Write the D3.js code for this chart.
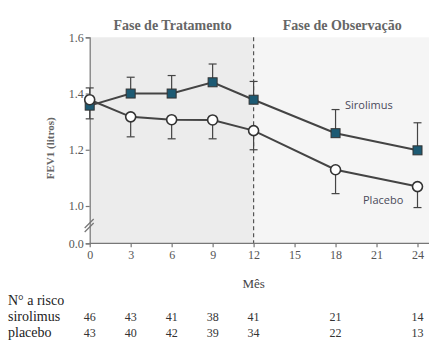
<!DOCTYPE html>
<html>
<head>
<meta charset="utf-8">
<script src="https://cdn.jsdelivr.net/npm/d3@7"></script>
<style>
  body { margin: 0; background: #fff; }
  svg { display: block; }
</style>
</head>
<body>
<div id="chart"></div>
<script>
'use strict';

// data
var months = [0, 3, 6, 9, 12, 18, 24];
var sirolimus = [1.357, 1.40, 1.40, 1.44, 1.378, 1.259, 1.198];
var sirolimusUpper = [1.42, 1.458, 1.464, 1.505, 1.443, 1.343, 1.296];
var placebo = [1.378, 1.317, 1.307, 1.306, 1.268, 1.129, 1.069];
var placeboLower = [1.31, 1.246, 1.239, 1.239, 1.20, 1.044, 0.958];
var atRiskSirolimus = [46, 43, 41, 38, 41, 21, 14];
var atRiskPlacebo = [43, 40, 42, 39, 34, 22, 13];
var xTicks = [0, 3, 6, 9, 12, 15, 18, 21, 24];
var yTicks = [0, 1.0, 1.2, 1.4, 1.6];
var phases = ["Fase de Tratamento", "Fase de Observação"];

var W = 437, H = 352;
var serif = "'Liberation Serif', 'Times New Roman', serif";
var sans = "'Open Sans', 'Noto Sans', sans-serif";

var svg = d3.select("#chart").append("svg")
			.attr("width", W)
			.attr("height", H);

var x = d3.scaleLinear().domain([0, 24]).range([89.7, 417.5]);
// broken axis: 0.0 then jump to 1.0
var y = d3.scaleLinear().domain([0, 1.0, 1.6]).range([243.3, 206, 37.3]);

var plotTop = y(1.6), plotBottom = y(0), plotRight = 429;

// phase panels
svg.append("rect")
   .attr("x", x(0)).attr("y", plotTop)
   .attr("width", x(12) - x(0)).attr("height", plotBottom - plotTop)
   .attr("fill", "#ececec");
svg.append("rect")
   .attr("x", x(12)).attr("y", plotTop)
   .attr("width", plotRight - x(12)).attr("height", plotBottom - plotTop)
   .attr("fill", "#f5f5f5");

// phase titles
svg.selectAll("text.phase")
   .data(phases)
   .enter().append("text")
   .attr("class", "phase")
   .attr("x", function(d, i) { return i == 0 ? (x(0) + x(12)) / 2 + 1 : (x(12) + plotRight) / 2 + 1; })
   .attr("y", 30)
   .attr("text-anchor", "middle")
   .attr("font-family", serif)
   .attr("font-weight", "bold")
   .attr("font-size", 14)
   .attr("fill", "#666")
   .text(function(d) { return d; });

// dashed separator
svg.append("line")
   .attr("x1", x(12)).attr("x2", x(12))
   .attr("y1", plotTop).attr("y2", plotBottom)
   .attr("stroke", "#555")
   .attr("stroke-width", 1.2)
   .attr("stroke-dasharray", "4,3");

// axes
var yAxis = svg.append("g")
			   .attr("transform", "translate(" + x(0) + ",0)")
			   .call(d3.axisLeft(y).tickValues(yTicks).tickFormat(d3.format(".1f")).tickSize(4).tickPadding(2));
var xAxis = svg.append("g")
			   .attr("transform", "translate(0," + plotBottom + ")")
			   .call(d3.axisBottom(x).tickValues(xTicks).tickSize(4).tickPadding(3));

xAxis.select(".domain").attr("d", "M" + x(0) + ",0H" + plotRight);

[yAxis, xAxis].forEach(function(g) {
	g.selectAll(".domain, .tick line").attr("stroke", "#777").attr("stroke-width", 1.2);
	g.selectAll("text")
	 .attr("font-family", serif)
	 .attr("font-size", 12)
	 .attr("fill", "#555");
});

// axis break marks
[0, 4].forEach(function(off) {
	svg.append("line")
	   .attr("x1", x(0) - 5).attr("y1", 232 - off)
	   .attr("x2", x(0) + 4).attr("y2", 223 - off)
	   .attr("stroke", "#777")
	   .attr("stroke-width", 1.2);
});

// y label
svg.append("text")
   .attr("transform", "translate(54," + ((plotTop + plotBottom) / 2 + 8) + ") rotate(-90)")
   .attr("text-anchor", "middle")
   .attr("font-family", serif)
   .attr("font-weight", "bold")
   .attr("font-size", 11)
   .attr("fill", "#666")
   .text("FEV1 (litros)");

// x label
svg.append("text")
   .attr("x", x(12)).attr("y", 288)
   .attr("text-anchor", "middle")
   .attr("font-family", serif)
   .attr("font-size", 13)
   .attr("fill", "#444")
   .text("Mês");

// error bars
function errorBars(vals, ends) {
	var g = svg.append("g").attr("stroke", "#444").attr("stroke-width", 1.2);
	months.forEach(function(m, i) {
		g.append("line")
		 .attr("x1", x(m)).attr("x2", x(m))
		 .attr("y1", y(vals[i])).attr("y2", y(ends[i]));
		g.append("line")
		 .attr("x1", x(m) - 4).attr("x2", x(m) + 4)
		 .attr("y1", y(ends[i])).attr("y2", y(ends[i]));
	});
}
errorBars(sirolimus, sirolimusUpper);
errorBars(placebo, placeboLower);

// lines
var line = d3.line()
			 .x(function(d, i) { return x(months[i]); })
			 .y(function(d) { return y(d); });

[sirolimus, placebo].forEach(function(s) {
	svg.append("path")
	   .attr("d", line(s))
	   .attr("fill", "none")
	   .attr("stroke", "#444")
	   .attr("stroke-width", 2);
});

// markers
svg.selectAll("rect.sq")
   .data(sirolimus)
   .enter().append("rect")
   .attr("class", "sq")
   .attr("x", function(d, i) { return x(months[i]) - 4.5; })
   .attr("y", function(d) { return y(d) - 4.5; })
   .attr("width", 9).attr("height", 9)
   .attr("fill", "#1d5a73")
   .attr("stroke", "#333")
   .attr("stroke-width", 1);

svg.selectAll("circle.pl")
   .data(placebo)
   .enter().append("circle")
   .attr("class", "pl")
   .attr("cx", function(d, i) { return x(months[i]); })
   .attr("cy", function(d) { return y(d); })
   .attr("r", 5)
   .attr("fill", "#fff")
   .attr("stroke", "#333")
   .attr("stroke-width", 1.6);

// series labels
svg.append("text")
   .attr("x", 345).attr("y", 109)
   .attr("font-family", sans)
   .attr("font-size", 11)
   .attr("fill", "#4a4a5a")
   .text("Sirolimus");
svg.append("text")
   .attr("x", 363).attr("y", 204)
   .attr("font-family", sans)
   .attr("font-size", 11)
   .attr("fill", "#4a4a5a")
   .text("Placebo");

// at-risk table
var rowLabels = ["N° a risco", "sirolimus", "placebo"];
svg.selectAll("text.rowlab")
   .data(rowLabels)
   .enter().append("text")
   .attr("class", "rowlab")
   .attr("x", 8)
   .attr("y", function(d, i) { return 305 + i * 16; })
   .attr("font-family", serif)
   .attr("font-size", 14)
   .attr("fill", "#222")
   .text(function(d) { return d; });

[atRiskSirolimus, atRiskPlacebo].forEach(function(row, r) {
	svg.selectAll("text.risk" + r)
	   .data(row)
	   .enter().append("text")
	   .attr("class", "risk" + r)
	   .attr("x", function(d, i) { return x(months[i]); })
	   .attr("y", 321 + r * 16)
	   .attr("text-anchor", "middle")
	   .attr("font-family", serif)
	   .attr("font-size", 12)
	   .attr("fill", "#333")
	   .text(function(d) { return d; });
});
</script>
</body>
</html>
